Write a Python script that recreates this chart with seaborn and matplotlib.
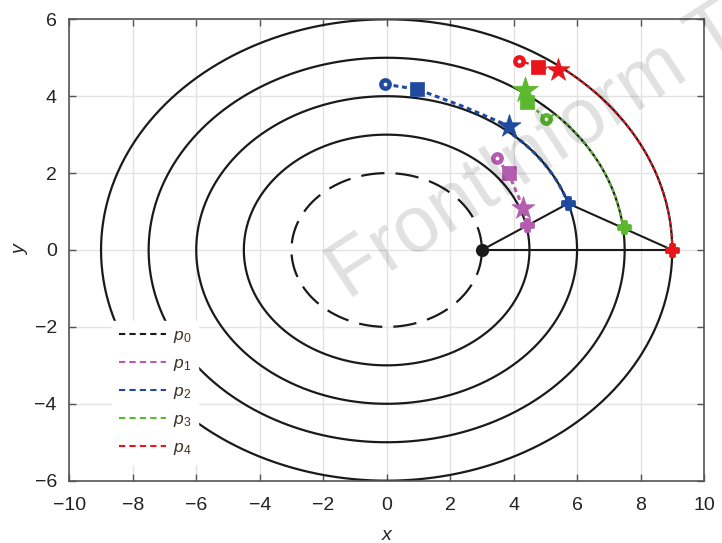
import numpy as np
import pandas as pd
import matplotlib
matplotlib.use("Agg")
import matplotlib.pyplot as plt
import seaborn as sns
from matplotlib.lines import Line2D

# ---------------- data ----------------
semi_a = [3.0, 4.5, 6.0, 7.5, 9.0]          # ellipse semi-axes along x
semi_b = [2.0, 3.0, 4.0, 5.0, 6.0]          # ellipse semi-axes along y
series = ["p0", "p1", "p2", "p3", "p4"]
labels = ["$p_0$", "$p_1$", "$p_2$", "$p_3$", "$p_4$"]
colors = ["#1a1a1a", "#b35cb0", "#1f4a9e", "#5cb82e", "#e8161c"]

origin_x = [3.0]
origin_y = [0.0]

# markers for p1..p4
circle_x = [3.47, -0.05, 5.03, 4.18]
circle_y = [2.38, 4.31, 3.41, 4.92]
square_x = [3.84, 0.97, 4.41, 4.78]
square_y = [1.99, 4.18, 3.86, 4.77]
star_x = [4.31, 3.84, 4.36, 5.41]
star_y = [1.08, 3.23, 4.16, 4.68]
plus_x = [4.42, 5.72, 7.47, 9.00]
plus_y = [0.65, 1.21, 0.60, 0.00]

# free segments of the trajectories (before they join their contour)
p1_path_x = [3.47, 3.84, 4.31, 4.42]
p1_path_y = [2.38, 1.99, 1.08, 0.65]
p2_path_x = [-0.05, 0.97, 2.42, 3.84]
p2_path_y = [4.31, 4.18, 3.73, 3.23]
p3_path_x = [4.36, 4.41, 5.03, 5.30]
p3_path_y = [4.16, 3.86, 3.41, 3.54]
p4_path_x = [4.18, 4.78, 5.41, 5.60]
p4_path_y = [4.92, 4.77, 4.68, 4.70]

# black triangle: origin -> p2 end -> p4 end -> origin
tri_x = [3.0, 5.72, 9.0, 3.0]
tri_y = [0.0, 1.21, 0.0, 0.0]

xticks = [-10, -8, -6, -4, -2, 0, 2, 4, 6, 8, 10]
yticks = [-6, -4, -2, 0, 2, 4, 6]

# ---------------- figure ----------------
sns.set_theme(style="white")
plt.rcParams["font.family"] = ["Liberation Sans", "DejaVu Sans"]
plt.rcParams["mathtext.fontset"] = "custom"
plt.rcParams["mathtext.it"] = "Liberation Sans:italic"
plt.rcParams["mathtext.rm"] = "Liberation Sans"

fig = plt.figure(figsize=(7.22, 5.43), dpi=100)
ax = fig.add_axes([69.3 / 722, 1 - 480.7 / 543, (704 - 69.3) / 722, (480.7 - 19.3) / 543])


def ellipse_arc(a, b, t0, t1, n=400):
    t = np.linspace(t0, t1, n)
    return a * np.cos(t), b * np.sin(t)


def angle_on(a, b, x, y):
    return np.arctan2(y / b, x / a)


# contour ellipses
rows = []
for k, (a, b) in enumerate(zip(semi_a, semi_b)):
    ex, ey = ellipse_arc(a, b, 0, 2 * np.pi, 600)
    for i, (xx, yy) in enumerate(zip(ex, ey)):
        rows.append((k, i, xx, yy))
ell = pd.DataFrame(rows, columns=["level", "i", "x", "y"])

sns.lineplot(data=ell[ell.level > 0], x="x", y="y", units="level", estimator=None,
             sort=False, color="#1a1a1a", lw=1.6, ax=ax, zorder=2)
sns.lineplot(data=ell[ell.level == 0], x="x", y="y", estimator=None, sort=False,
             color="#1a1a1a", lw=1.6, linestyle=(0, (10.5, 5.0)), ax=ax, zorder=2)

# triangle
sns.lineplot(x=tri_x, y=tri_y, sort=False, estimator=None, color="#1a1a1a", lw=1.5,
             ax=ax, zorder=3)

# trajectories
paths = [(p1_path_x, p1_path_y), (p2_path_x, p2_path_y),
         (p3_path_x, p3_path_y), (p4_path_x, p4_path_y)]
for j, (px, py) in enumerate(paths):
    k = j + 1
    a, b = semi_a[k], semi_b[k]
    xs, ys = list(px), list(py)
    if k >= 2:
        t0 = angle_on(a, b, px[-1], py[-1])
        t1 = angle_on(a, b, plus_x[j], plus_y[j])
        ax_, ay_ = ellipse_arc(a, b, t0, t1, 200)
        xs += list(ax_)
        ys += list(ay_)
    lw = 2.2 if k <= 2 else 1.6
    sns.lineplot(x=xs, y=ys, sort=False, estimator=None, color=colors[k], lw=lw,
                 linestyle=(0, (1.6, 1.2)), ax=ax, zorder=4)

# markers
for j in range(4):
    c = colors[j + 1]
    sns.scatterplot(x=[circle_x[j]], y=[circle_y[j]], marker="o", s=36,
                    facecolor="white", edgecolor=c, linewidth=3.2, ax=ax, zorder=6)
    sns.scatterplot(x=[square_x[j]], y=[square_y[j]], marker="s", s=95,
                    color=c, edgecolor=c, linewidth=0.5, ax=ax, zorder=6)
    sns.scatterplot(x=[star_x[j]], y=[star_y[j]], marker="*", s=380 if j == 2 else 300,
                    color=c, edgecolor=c, linewidth=0.5, ax=ax, zorder=6)
    sns.scatterplot(x=[plus_x[j]], y=[plus_y[j]], marker="P", s=80,
                    color=c, edgecolor=c, linewidth=2.0, ax=ax, zorder=7)
sns.scatterplot(x=origin_x, y=origin_y, marker="o", s=90, color="#1a1a1a",
                edgecolor="#1a1a1a", linewidth=0, ax=ax, zorder=7)

# axes styling
ax.set_xlim(-10, 10)
ax.set_ylim(-6, 6)
ax.set_xticks(xticks)
ax.set_yticks(yticks)
ax.grid(True, color="#e3e3e3", lw=1.0)
ax.set_axisbelow(True)
for sp in ax.spines.values():
    sp.set_color("#555555")
    sp.set_linewidth(1.2)
ax.tick_params(direction="in", length=5, width=1, color="#555555", labelsize=14,
               labelcolor="#222222", top=True, right=True, bottom=True, left=True,
               labeltop=False, labelright=False)
ax.tick_params(axis="x", pad=12)
ax.tick_params(axis="y", pad=9)
ax.set_xlabel("x", fontsize=14, style="italic", color="#222222", labelpad=9)
ax.set_ylabel("y", fontsize=14, style="italic", color="#222222", labelpad=4)

# legend
handles = [Line2D([0], [0], color=colors[i], lw=1.5, linestyle=(0, (3, 2)))
           for i in range(5)]
leg = ax.legend(handles, labels, loc="upper left",
                bbox_to_anchor=(112 / 722, 1 - 321 / 543), bbox_transform=fig.transFigure,
                frameon=True, fancybox=False, framealpha=1, edgecolor="white",
                facecolor="white", fontsize=12.5, handlelength=2.7, handletextpad=0.4,
                labelspacing=0.62, borderaxespad=0, borderpad=0.4)
for t in leg.get_texts():
    t.set_color("#3a3328")
leg.set_zorder(10)

# watermark
fig.text(347 / 722, 1 - 300 / 543, "FrontInform Te", fontsize=57, color="black",
         alpha=0.12, rotation=33, rotation_mode="anchor", ha="left", va="baseline",
         zorder=20)

fig.savefig("out.png", dpi=100)
